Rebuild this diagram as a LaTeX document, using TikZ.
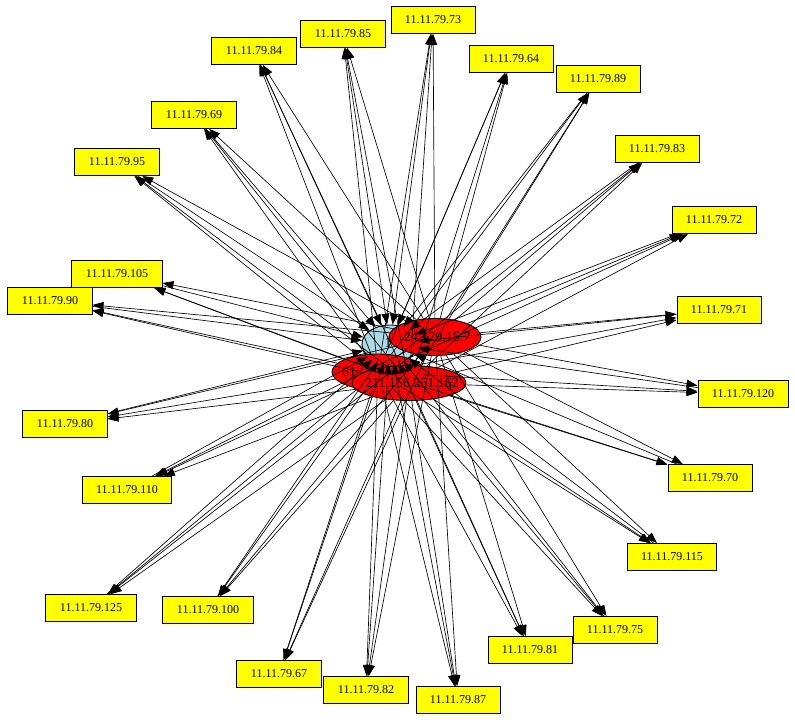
\documentclass[tikz,border=0pt]{standalone}
\usepackage{fontspec}
\setmainfont{Liberation Serif}
\usetikzlibrary{shapes.geometric,arrows.meta}
\definecolor{gvlightblue}{HTML}{ADD8E6}
\definecolor{gvyellow}{HTML}{FFFF00}
\definecolor{gvred}{HTML}{FF0000}
\begin{document}
\begin{tikzpicture}[x=1pt,y=-1pt,
  ipbox/.style={draw=black, fill=gvyellow, line width=0.9pt, rectangle,
    inner xsep=14pt, inner ysep=0pt, minimum height=27pt,
    font=\fontsize{12}{14}\selectfont},
  hub/.style={draw=black, line width=0.9pt, ellipse, inner sep=0pt},
  hublabel/.style={font=\fontsize{14}{16}\selectfont, inner sep=0pt},
  edge/.style={line width=0.65pt, -{Triangle[length=11pt,width=8pt]}}]
\useasboundingbox (0,0) rectangle (795,720);
\fill[white] (0,0) rectangle (795,720);
% hub nodes
\node[hub, fill=gvlightblue, minimum width=56pt, minimum height=38pt] (blue) at (390,344) {};
\node[hublabel] (bluelabel) at (388,343) {1};
\node[hub, fill=gvred, minimum width=92pt, minimum height=37pt] (r24) at (435,337) {};
\node[hublabel] (r24label) at (437,337) {24.129.15.7};
\node[hub, fill=gvred, minimum width=92pt, minimum height=36pt] (r61) at (378,372) {};
\node[hublabel] (r61label) at (349,372) {61};
\node[hub, fill=gvred, minimum width=114pt, minimum height=35pt] (r211) at (409,383) {};
\node[hublabel] (r211label) at (412,383) {211.156.251.162};
% boxes
\foreach \n/\x/\y in {73/433/20, 85/343/34, 84/254/51, 64/511/59, 89/598/79,
  69/194/115, 83/657/149, 95/117/162, 72/714/220, 105/117/274, 90/50/301,
  71/719/310, 120/743/394, 80/65/424, 70/710/478, 110/127/490, 115/672/557,
  125/91/608, 100/208/610, 75/615/630, 81/530/650, 67/279/674, 82/366/690,
  87/458/700}
  \node[ipbox] (b\n) at (\x,\y) {11.11.79.\n};
% edges
\foreach \n in {73,85,84,64,89,69,83,95,72,105,90,71,120,80,70,110,115,125,100,75,81,67,82,87}{
  \draw[edge] (r24) -- (b\n);
  \draw[edge] (r61) -- (b\n);
  \draw[edge] (r211) -- (b\n);
  \draw[edge] (b\n) -- (blue);
}
\end{tikzpicture}
\end{document}
